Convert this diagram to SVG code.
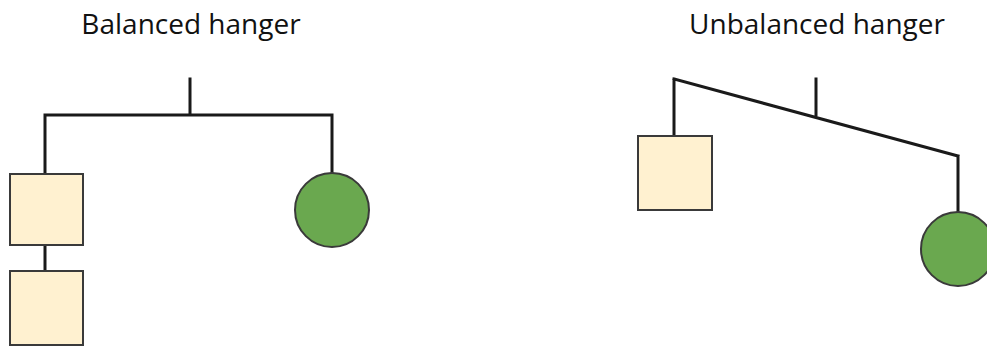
<svg xmlns="http://www.w3.org/2000/svg" width="987" height="347" viewBox="0 0 987 347">
<style>
.t{font-family:"Open Sans",Lato,"Liberation Sans",sans-serif;font-size:28px;fill:#111;text-anchor:middle}
.w{stroke:#1a1a1a;stroke-width:3;fill:none;stroke-linecap:square}
.sq{fill:#FFF1D0;stroke:#3a3a3a;stroke-width:2}
.c{fill:#6AA84F;stroke:#3a3a3a;stroke-width:2}
</style>
<rect width="987" height="347" fill="#fff"/>
<text class="t" x="191" y="34">Balanced hanger</text>
<text class="t" x="817" y="34">Unbalanced hanger</text>
<g id="connectors">
<path class="w" d="M190,79 V115 M45,115 H332 M45,115 V174 M45,245 V271 M332,115 V174"/>
<path class="w" d="M816,79 V117 M674,79 L958,156 M674,79 V136 M958,156 V213"/>
</g>
<g id="b-square1"><rect class="sq" x="10" y="174" width="73" height="71"/></g>
<g id="b-square2"><rect class="sq" x="10" y="271" width="73" height="74"/></g>
<g id="b-circle"><circle class="c" cx="332" cy="210" r="37"/></g>
<g id="u-square"><rect class="sq" x="638" y="136" width="74" height="74"/></g>
<g id="u-circle"><circle class="c" cx="958" cy="249" r="37"/></g>
</svg>
